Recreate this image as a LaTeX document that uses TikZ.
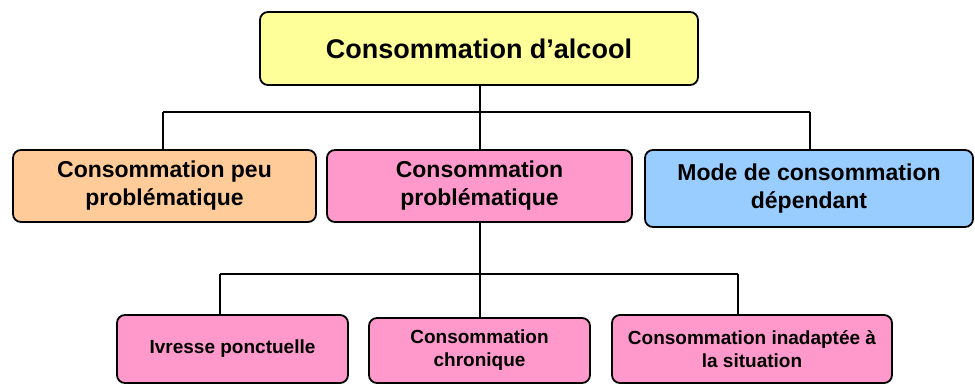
\documentclass[tikz,border=0pt]{standalone}
\usepackage{fontspec}
\setmainfont{Liberation Sans}
\definecolor{topyellow}{HTML}{FFFF99}
\definecolor{loworange}{HTML}{FFCC99}
\definecolor{probpink}{HTML}{FF99CC}
\definecolor{depblue}{HTML}{99CCFF}
\begin{document}
\begin{tikzpicture}[x=1pt, y=-1pt,
  box/.style={shape=rectangle, draw=black, line width=1.8pt, rounded corners=8pt, align=center, inner sep=0pt},
  link/.style={draw=black, line width=1.8pt}]
\useasboundingbox (0,0) rectangle (975,385);
\node[box, fill=topyellow, minimum width=438pt, minimum height=73pt, font=\fontsize{27}{32}\selectfont\bfseries] (top) at (479,48.5) {Consommation d’alcool};
\node[box, fill=loworange, minimum width=303pt, minimum height=72pt, font=\fontsize{23}{28}\selectfont\bfseries] (mid1) at (164.5,186) {Consommation peu\\problématique};
\node[box, fill=probpink, minimum width=305pt, minimum height=72pt, font=\fontsize{23}{28}\selectfont\bfseries] (mid2) at (479.5,186) {Consommation\\problématique};
\node[box, fill=depblue, minimum width=328pt, minimum height=77pt, font=\fontsize{23}{28}\selectfont\bfseries] (mid3) at (809,188.5) {Mode de consommation\\dépendant};
\node[box, fill=probpink, minimum width=231pt, minimum height=68pt, font=\fontsize{19}{23}\selectfont\bfseries] (bot1) at (232.5,349) {Ivresse ponctuelle};
\node[box, fill=probpink, minimum width=221pt, minimum height=65pt, font=\fontsize{19}{23}\selectfont\bfseries] (bot2) at (479.5,350.5) {Consommation\\chronique};
\node[box, fill=probpink, minimum width=280pt, minimum height=68pt, font=\fontsize{19}{23}\selectfont\bfseries] (bot3) at (752,349) {Consommation inadaptée à\\la situation};
% first level
\coordinate (a1) at (163,112);
\coordinate (a2) at (480,112);
\coordinate (a3) at (810,112);
\path[link] (a2 |- top.south) -- (a2 |- mid2.north);
\path[link] (a1) -- (a3);
\path[link] (a1) -- (a1 |- mid1.north);
\path[link] (a3) -- (a3 |- mid3.north);
% second level
\coordinate (b1) at (220,274);
\coordinate (b2) at (480,274);
\coordinate (b3) at (738,274);
\path[link] (b2 |- mid2.south) -- (b2 |- bot2.north);
\path[link] (b1) -- (b3);
\path[link] (b1) -- (b1 |- bot1.north);
\path[link] (b3) -- (b3 |- bot3.north);
\end{tikzpicture}
\end{document}
